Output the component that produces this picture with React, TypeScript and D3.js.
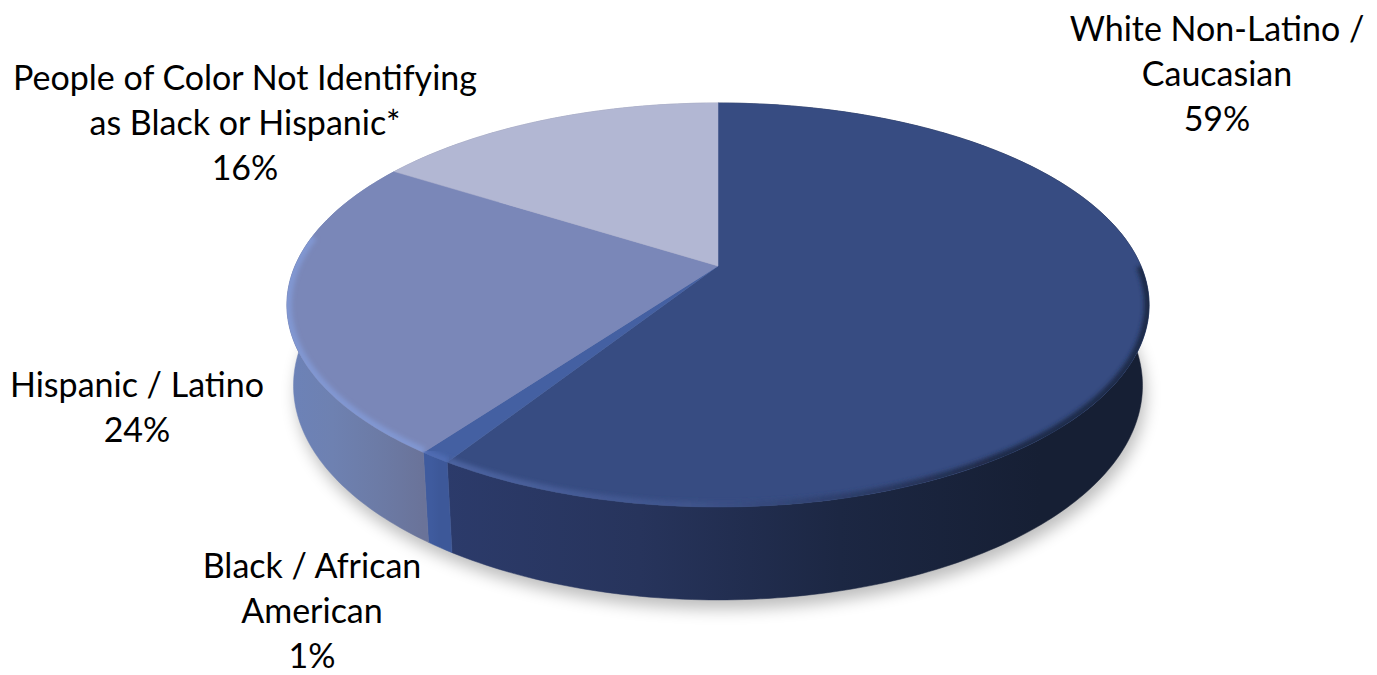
import * as d3 from "d3"

const categories = [
  "White Non-Latino / Caucasian",
  "Black / African American",
  "Hispanic / Latino",
  "People of Color Not Identifying as Black or Hispanic*",
]
const values = [59, 1, 24, 16]
const labelLines = [
  ["White Non-Latino /", "Caucasian", "59%"],
  ["Black / African", "American", "1%"],
  ["Hispanic / Latino", "24%"],
  ["People of Color Not Identifying", "as Black or Hispanic*", "16%"],
]
const topColors = ["#374c82", "#4460a2", "#7a87b8", "#b2b7d3"]
const sideStops = [
  ["#2c3b6b", "#27345c", "#1c2743", "#161f34"],
  ["#3f5b9e", "#3f5b9e", "#3d5899", "#3d5899"],
  ["#6c82b8", "#6e81b1", "#6c7ba6", "#6a7399"],
  ["#8d92aa", "#8d92aa", "#8d92aa", "#8d92aa"],
]
const rimColors = ["#4c63a0", "#4f6cb2", "#8197d2", "#b8bdd8"]
const labelAnchors = [
  { x: 1217, y: 41 },
  { x: 312, y: 578 },
  { x: 137, y: 397 },
  { x: 245, y: 90 },
]

const WIDTH = 1377
const HEIGHT = 675
const CX = 718
const CY = 266
const SCALE_X = 423
const SCALE_Y = 194.5
const PERSPECTIVE = 0.193
const DEPTH = 80
const DEPTH_SHRINK = 0.015
const LINE_HEIGHT = 45
const FONT_SIZE = 34

type Pt = [number, number]

// disc angle (clockwise from the back) to screen position, level 0 = top face, 1 = bottom face
const project = (angle: number, radius: number, level: number): Pt => {
  const x = Math.sin(angle) * radius
  const z = -Math.cos(angle) * radius
  const w = 1 - PERSPECTIVE * z + DEPTH_SHRINK * level
  return [CX + (SCALE_X * x) / w, CY + (SCALE_Y * z + DEPTH * level) / w]
}

const arcPoints = (a0: number, a1: number, level: number): Pt[] => {
  const n = Math.max(2, Math.ceil((a1 - a0) * 60))
  return d3.range(n + 1).map((i) => project(a0 + ((a1 - a0) * i) / n, 1, level))
}

const line = d3.line<Pt>()

export default function App() {
  const slices = d3
    .pie<number>()
    .sort(null)
    .startAngle(0)
    .endAngle(Math.PI * 2)(values)

  const topDisc = line(arcPoints(0, Math.PI * 2, 0)) + "Z"
  const bottomDisc = line(arcPoints(0, Math.PI * 2, 1)) + "Z"
  const whiteSideX = d3.scaleLinear().domain([0, 3]).range([440, 1040])

  return (
    <svg
      width={WIDTH}
      height={HEIGHT}
      viewBox={`0 0 ${WIDTH} ${HEIGHT}`}
      style={{ position: "absolute", left: 0, top: 0, display: "block" }}
    >
      <defs>
        <filter id="shadow" x="-10%" y="-10%" width="120%" height="120%">
          <feGaussianBlur stdDeviation="8" />
        </filter>
        <filter id="rim" x="-5%" y="-5%" width="110%" height="110%">
          <feGaussianBlur stdDeviation="2" />
        </filter>
        <clipPath id="rim-clip">
          <path d={topDisc} />
        </clipPath>
        {slices.map((s, i) => {
          const xs = arcPoints(s.startAngle, s.endAngle, 0).map((p) => p[0])
          const range =
            i === 0
              ? [whiteSideX(0), whiteSideX(3)]
              : [d3.min(xs) as number, d3.max(xs) as number]
          return (
            <linearGradient
              key={i}
              id={`side-${i}`}
              gradientUnits="userSpaceOnUse"
              x1={range[0]}
              x2={range[1]}
              y1={0}
              y2={0}
            >
              {sideStops[i].map((c, j) => (
                <stop key={j} offset={j / 3} stopColor={c} />
              ))}
            </linearGradient>
          )
        })}
        <linearGradient
          id="rim-0"
          gradientUnits="userSpaceOnUse"
          x1={450}
          x2={1130}
          y1={0}
          y2={0}
        >
          <stop offset={0} stopColor={rimColors[0]} />
          <stop offset={0.35} stopColor="#3f548c" />
          <stop offset={0.55} stopColor="#2f4170" />
          <stop offset={0.8} stopColor="#1f2a48" />
          <stop offset={1} stopColor="#1f2a48" />
        </linearGradient>
      </defs>

      <path
        d={bottomDisc}
        transform="translate(3 9)"
        fill="#000"
        opacity={0.26}
        filter="url(#shadow)"
      />

      {slices.map((s, i) => {
        const upper = arcPoints(s.startAngle, s.endAngle, 0)
        const lower = arcPoints(s.startAngle, s.endAngle, 1).reverse()
        return (
          <path
            key={categories[i]}
            d={line([...upper, ...lower]) + "Z"}
            fill={`url(#side-${i})`}
            stroke={`url(#side-${i})`}
            strokeWidth={0.5}
          />
        )
      })}

      {slices.map((s, i) => {
        const pts = [
          project(0, 0, 0),
          ...arcPoints(s.startAngle, s.endAngle, 0),
        ]
        return (
          <path
            key={categories[i]}
            d={line(pts) + "Z"}
            fill={topColors[i]}
            stroke={topColors[i]}
            strokeWidth={0.5}
          />
        )
      })}

      <g clipPath="url(#rim-clip)">
        {slices.map((s, i) => {
          // bevel only shows along the front of the disc
          const a0 = Math.max(s.startAngle, Math.PI * 0.5)
          const a1 = Math.min(s.endAngle, Math.PI * 1.55)
          if (a1 <= a0) return null
          return (
            <path
              key={categories[i]}
              d={line(arcPoints(a0, a1, 0)) as string}
              fill="none"
              stroke={i === 0 ? "url(#rim-0)" : rimColors[i]}
              strokeWidth={10}
              filter="url(#rim)"
            />
          )
        })}
      </g>

      <g
        fontFamily="Lato, 'Open Sans', sans-serif"
        fontSize={FONT_SIZE}
        fill="#000"
        textAnchor="middle"
      >
        {labelLines.map((lines, i) => (
          <text key={i} x={labelAnchors[i].x} y={labelAnchors[i].y}>
            {lines.map((t, j) => (
              <tspan
                key={j}
                x={labelAnchors[i].x}
                y={labelAnchors[i].y + j * LINE_HEIGHT}
              >
                {t}
              </tspan>
            ))}
          </text>
        ))}
      </g>
    </svg>
  )
}
